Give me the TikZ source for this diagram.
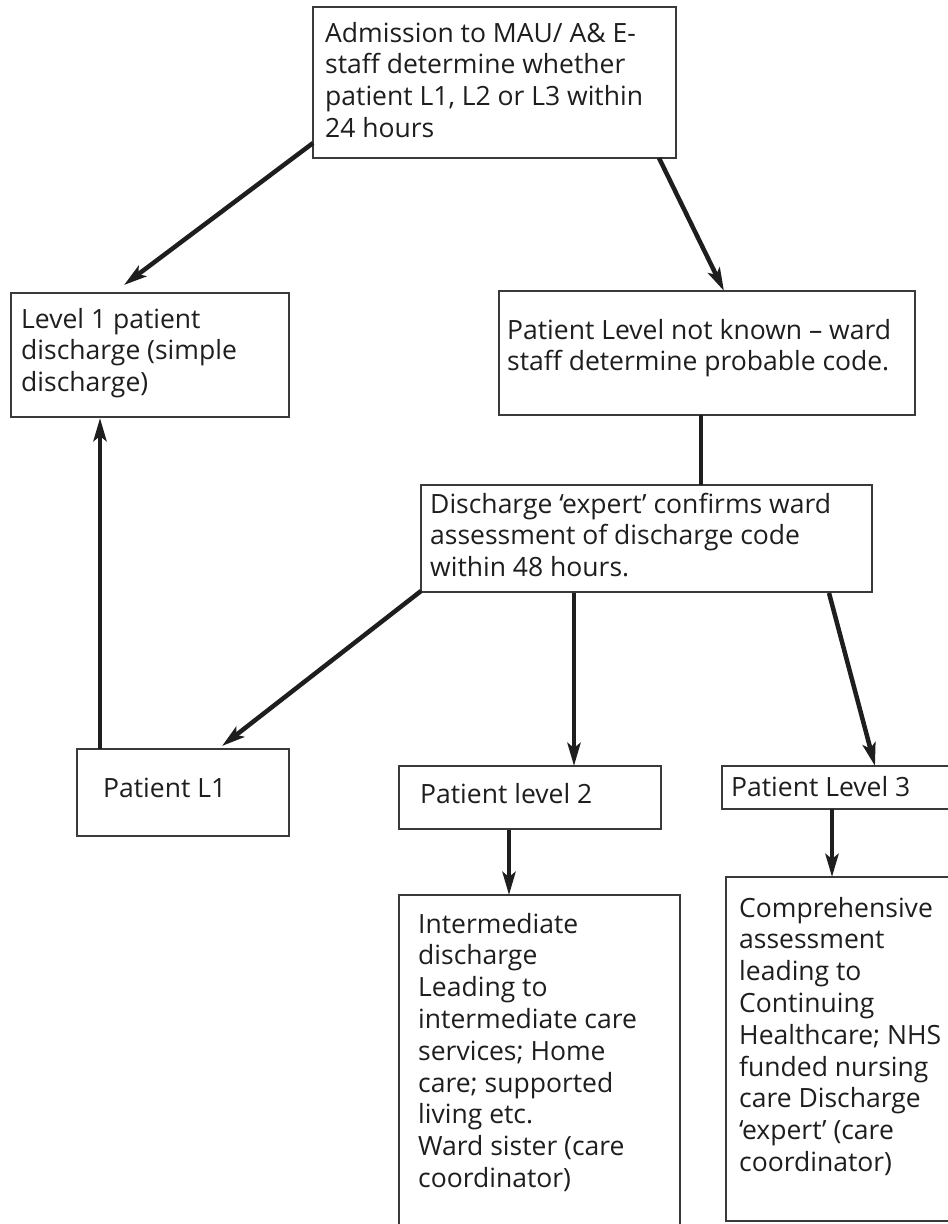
\documentclass[tikz,border=0pt]{standalone}
\usepackage{fontspec}
\setmainfont{Open Sans}
\usetikzlibrary{arrows.meta,calc}
\definecolor{ink}{HTML}{1E1E1E}
\definecolor{frame}{HTML}{3A3A3A}
\newcommand\txtlines[1]{\begin{tabular}[t]{@{}l@{}}#1\end{tabular}}
\tikzset{
  box/.style={draw=frame, line width=1.3pt, fill=white, inner sep=0pt, outer sep=0pt, anchor=north west},
  txt/.style={anchor=base west, inner sep=0pt, text=ink, font=\fontsize{26.5}{31.8}\selectfont},
  conn/.style={draw=ink, line width=4.5pt},
  arr/.style={conn, -{Stealth[length=23pt,width=13pt,inset=5pt]}}
}
\begin{document}
\begin{tikzpicture}[x=1pt,y=-1pt]
\useasboundingbox (0,0) rectangle (948,1224);
\fill[white] (0,0) rectangle (948,1224);
\begin{scope}
\clip (0,0) rectangle (948,1224);
% boxes
\node[box, minimum width=363pt, minimum height=151pt] (adm) at (313,7) {};
\node[box, minimum width=278pt, minimum height=124pt] (l1dis) at (11,293) {};
\node[box, minimum width=416pt, minimum height=124pt] (unk) at (499,291) {};
\node[box, minimum width=451pt, minimum height=107pt] (exp) at (421,485) {};
\node[box, minimum width=212pt, minimum height=87pt] (pl1) at (77,749) {};
\node[box, minimum width=262pt, minimum height=63pt] (pl2) at (399,766) {};
\node[box, minimum width=260pt, minimum height=43pt] (pl3) at (722,766) {};
\node[box, minimum width=281pt, minimum height=340pt] (int) at (399,895) {};
\node[box, minimum width=260pt, minimum height=344pt] (comp) at (726,877) {};
% texts
\node[txt] (tadm) at (325,42) {\txtlines{Admission to MAU/ A\& E-\\staff determine whether\\patient L1, L2 or L3 within\\24 hours}};
\node[txt] (tl1dis) at (21,328) {\txtlines{Level 1 patient\\discharge (simple\\discharge)}};
\node[txt] (tunk) at (507,339) {\txtlines{Patient Level not known – ward\\staff determine probable code.}};
\node[txt] (texp) at (430,513) {\txtlines{Discharge ‘expert’ confirms ward\\assessment of discharge code\\within 48 hours.}};
\node[txt] (tpl1) at (103,797) {Patient L1};
\node[txt] (tpl2) at (420,803) {Patient level 2};
\node[txt] (tpl3) at (731,796) {Patient Level 3};
\node[txt] (tint) at (418,933) {\txtlines{Intermediate\\discharge\\Leading to\\intermediate care\\services; Home\\care; supported\\living etc.\\Ward sister (care\\coordinator)}};
\node[txt] (tcomp) at (739,917) {\txtlines{Comprehensive\\assessment\\leading to\\Continuing\\Healthcare; NHS\\funded nursing\\care Discharge\\‘expert’ (care\\coordinator)}};
% connectors
\draw[arr] ($(adm.south west)+(0,-15)$) -- ($(l1dis.north west)+(113,-8)$);
\draw[arr] ($(adm.south west)+(346,0)$) -- ($(unk.north west)+(225,0)$);
\draw[conn] ($(unk.south west)+(202,0)$) -- ($(exp.north west)+(280,0)$);
\draw[arr] ($(exp.south west)+(0,-1)$) -- ($(pl1.north west)+(145,-3)$);
\draw[arr] ($(exp.south west)+(153,1)$) -- ($(pl2.north west)+(175,0)$);
\draw[arr] ($(exp.south west)+(408,1)$) -- ($(pl3.north west)+(153,0)$);
\draw[arr] ($(pl1.north west)+(23,0)$) -- ($(l1dis.south west)+(89,1)$);
\draw[arr] ($(pl2.south west)+(110,1)$) -- ($(int.north west)+(110,0)$);
\draw[arr] ($(pl3.south west)+(110,0)$) -- ($(comp.north west)+(106,0)$);
\end{scope}
\end{tikzpicture}
\end{document}
